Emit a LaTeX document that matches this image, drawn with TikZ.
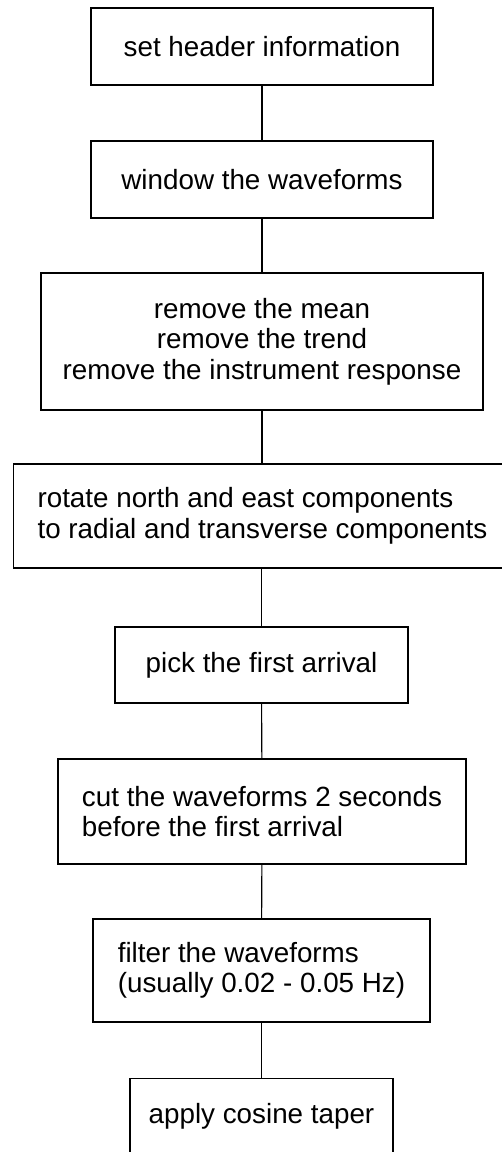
\documentclass[tikz,border=0pt]{standalone}
\usepackage{fontspec}
\setmainfont{Liberation Sans}
\begin{document}
\begin{tikzpicture}[x=1pt,y=-1pt,
  stepbox/.style={draw=black, line width=1.1pt, inner sep=0pt, align=center,
    font=\fontsize{27.8}{30.5}\selectfont},
  leftbox/.style={stepbox, align=left},
  link/.style={draw=black, line width=1.1pt}]
\useasboundingbox (0,0) rectangle (501,1152);

\node[stepbox, minimum width=342pt, minimum height=77pt] (b1) at (262,46.5)
  {set header information};
\node[stepbox, minimum width=342pt, minimum height=77pt] (b2) at (262,179.5)
  {window the waveforms};
\node[stepbox, minimum width=442pt, minimum height=137pt] (b3) at (262,341.5)
  {remove the mean\\remove the trend\\remove the instrument response};
% wide box: its right side runs past the page edge
\node[leftbox, anchor=west, inner xsep=24pt, minimum height=104pt] (b4) at (13,516)
  {rotate north and east components\\to radial and transverse components};
\node[stepbox, minimum width=293pt, minimum height=76pt] (b5) at (261.5,665)
  {pick the first arrival};
\node[leftbox, minimum width=408pt, minimum height=105pt] (b6) at (262,811.5)
  {cut the waveforms 2 seconds\\before the first arrival};
\node[leftbox, minimum width=337pt, minimum height=103pt] (b7) at (261.5,970.5)
  {filter the waveforms\\(usually 0.02 - 0.05 Hz)};
% last box: its bottom runs past the page edge
\node[stepbox, anchor=north, minimum width=263pt, text height=45pt, text depth=40pt] (b8) at (261.5,1078)
  {apply cosine taper};

\draw[link] (b1) -- (b2);
\draw[link] (b2) -- (b3);
\draw[link] (b3.south) -- (b3.south |- b4.north);
\draw[link] (b5.north |- b4.south) -- (b5.north);
\draw[link] (b5) -- (b6);
\draw[link] (b6) -- (b7);
\draw[link] (b7) -- (b8);
\end{tikzpicture}
\end{document}
